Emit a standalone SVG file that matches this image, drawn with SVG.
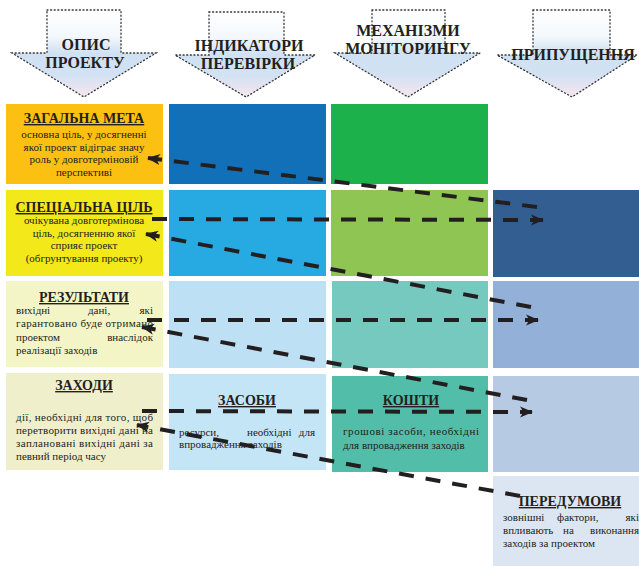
<svg xmlns="http://www.w3.org/2000/svg" width="639" height="566" viewBox="0 0 639 566">
<defs>
<linearGradient id="hg" x1="0" y1="0" x2="0" y2="1">
<stop offset="0" stop-color="#FFFFFF"/>
<stop offset="0.3" stop-color="#F3F8FC"/>
<stop offset="0.5" stop-color="#CFE1F3"/>
<stop offset="0.75" stop-color="#D2E2F3"/>
<stop offset="1" stop-color="#F7E6EF"/>
</linearGradient>
<marker id="ah" markerUnits="userSpaceOnUse" markerWidth="14" markerHeight="12" refX="12" refY="6" orient="auto" viewBox="0 0 14 12">
<path d="M0,0.5 L13,6 L0,11.5 L3.5,6 Z" fill="#231F20"/>
</marker>
<style>
.hdr{fill:url(#hg);stroke:#333;stroke-width:1.3;stroke-dasharray:1 2.6;stroke-linecap:round}
.ht{font-family:"Liberation Serif","DejaVu Serif","Times New Roman",serif;font-weight:bold;font-size:16px;fill:#231F20;text-anchor:middle}
.tt{font-family:"Liberation Serif","DejaVu Serif","Times New Roman",serif;font-weight:bold;font-size:14px;fill:#231F20;text-anchor:middle;text-decoration:underline}
.bt{font-family:"Liberation Serif","DejaVu Serif","Times New Roman",serif;font-size:11px;fill:#231F20}
.c{text-anchor:middle}
.e{text-anchor:end}
.ln{fill:none;stroke:#231F20;stroke-width:4;stroke-dasharray:15 12;marker-end:url(#ah)}
</style>
</defs>
<rect width="639" height="566" fill="#FFFFFF"/>

<g id="h1"><path class="hdr" d="M47,10 H121 V53 H156 L84,97 L12,53 H47 Z"/><text class="ht" x="86" y="50">ОПИС</text><text class="ht" x="85" y="68">ПРОЕКТУ</text></g>
<g id="h2"><path class="hdr" d="M209,12 H284 V55 H315 L246,97 L175,55 H209 Z"/><text class="ht" x="249" y="51">ІНДИКАТОРИ</text><text class="ht" x="248" y="69">ПЕРЕВІРКИ</text></g>
<g id="h3"><path class="hdr" d="M372,10 H445 V53 H480 L408,97 L335,53 H372 Z"/><text class="ht" x="408" y="36">МЕХАНІЗМИ</text><text class="ht" x="408" y="54">МОНІТОРИНГУ</text></g>
<g id="h4"><path class="hdr" d="M533,10 H610 V55 H637 L572,97 L497,55 H533 Z"/><text class="ht" x="573" y="60">ПРИПУЩЕННЯ</text></g>

<g id="r1c1"><rect x="6" y="104" width="157" height="80" fill="#FBC012"/>
<text class="tt" x="84" y="123">ЗАГАЛЬНА МЕТА</text>
<text class="bt c" x="84" y="138">основна ціль, у досягненні</text>
<text class="bt c" x="84" y="151">якої проект відіграє значу</text>
<text class="bt c" x="84" y="163">роль у довготерміновій</text>
<text class="bt c" x="84" y="176">перспективі</text></g>
<g id="r1c2"><rect x="169" y="104" width="157" height="80" fill="#1170B8"/></g>
<g id="r1c3"><rect x="331" y="104" width="157" height="80" fill="#1DB14B"/></g>

<g id="r2c1"><rect x="6" y="190" width="157" height="86" fill="#F2E81A"/>
<text class="tt" x="84" y="212">СПЕЦІАЛЬНА ЦІЛЬ</text>
<text class="bt c" x="84" y="224">очікувана довготермінова</text>
<text class="bt c" x="84" y="237">ціль, досягненню якої</text>
<text class="bt c" x="84" y="249">сприяє проект</text>
<text class="bt c" x="84" y="262">(обгрунтування проекту)</text></g>
<g id="r2c2"><rect x="169" y="190" width="157" height="86" fill="#27AAE1"/></g>
<g id="r2c3"><rect x="331" y="190" width="157" height="86" fill="#8FC653"/></g>
<g id="r2c4"><rect x="493" y="190" width="146" height="87" fill="#335E91"/></g>

<g id="r3c1"><rect x="6" y="281" width="157" height="86" fill="#F4F5C6"/>
<text class="tt" x="84" y="302">РЕЗУЛЬТАТИ</text>
<text class="bt" x="16" y="314">вихідні</text><text class="bt" x="88" y="314">дані,</text><text class="bt e" x="153" y="314">які</text>
<text class="bt" x="16" y="327" textLength="137" lengthAdjust="spacing">гарантовано буде отримано</text>
<text class="bt" x="16" y="341">проектом</text><text class="bt e" x="153" y="341">внаслідок</text>
<text class="bt" x="16" y="354">реалізації заходів</text></g>
<g id="r3c2"><rect x="169" y="281" width="157" height="87" fill="#BEE0F4"/></g>
<g id="r3c3"><rect x="332" y="281" width="156" height="87" fill="#76C9BF"/></g>
<g id="r3c4"><rect x="493" y="281" width="146" height="87" fill="#93B1D8"/></g>

<g id="r4c1"><rect x="6" y="373" width="157" height="97" fill="#EFEFCC"/>
<text class="tt" x="84" y="390">ЗАХОДИ</text>
<text class="bt" x="16" y="421" textLength="137" lengthAdjust="spacing">дії, необхідні для того, щоб</text>
<text class="bt" x="16" y="434" textLength="137" lengthAdjust="spacing">перетворити вихідні дані на</text>
<text class="bt" x="16" y="447" textLength="137" lengthAdjust="spacing">заплановані вихідні дані за</text>
<text class="bt" x="16" y="460">певний період часу</text></g>
<g id="r4c2"><rect x="169" y="374" width="157" height="96" fill="#C3E5F6"/>
<text class="tt" x="247" y="405">ЗАСОБИ</text>
<text class="bt" x="179" y="436">ресурси,</text><text class="bt" x="247" y="436">необхідні</text><text class="bt e" x="315" y="436">для</text>
<text class="bt" x="179" y="448">впровадження заходів</text></g>
<g id="r4c3"><rect x="332" y="376" width="156" height="96" fill="#52BEA9"/>
<text class="tt" x="411" y="405">КОШТИ</text>
<text class="bt" x="343" y="435" textLength="136" lengthAdjust="spacing">грошові засоби, необхідні</text>
<text class="bt" x="343" y="449">для впровадження заходів</text></g>
<g id="r4c4"><rect x="493" y="376" width="146" height="96" fill="#B6CAE4"/></g>

<g id="r5c4"><rect x="493" y="476" width="146" height="90" fill="#DCE6F2"/>
<text class="tt" x="570" y="506">ПЕРЕДУМОВИ</text>
<text class="bt" x="503" y="521">зовнішні</text><text class="bt" x="557" y="521">фактори,</text><text class="bt e" x="639" y="521">які</text>
<text class="bt" x="503" y="534">впливають</text><text class="bt" x="563" y="534">на</text><text class="bt e" x="639" y="534">виконання</text>
<text class="bt" x="503" y="547">заходів за проектом</text></g>

<g id="connectors">
<path class="ln" d="M537,207 L148,158"/>
<path class="ln" d="M152,219 L543,220"/>
<path class="ln" d="M531,307 L146,234"/>
<path class="ln" d="M147,320 L538,320"/>
<path class="ln" d="M527,400 L142,327"/>
<path class="ln" d="M142,411 L532,412"/>
<path class="ln" d="M520,496 L137,425"/>
</g>
</svg>
